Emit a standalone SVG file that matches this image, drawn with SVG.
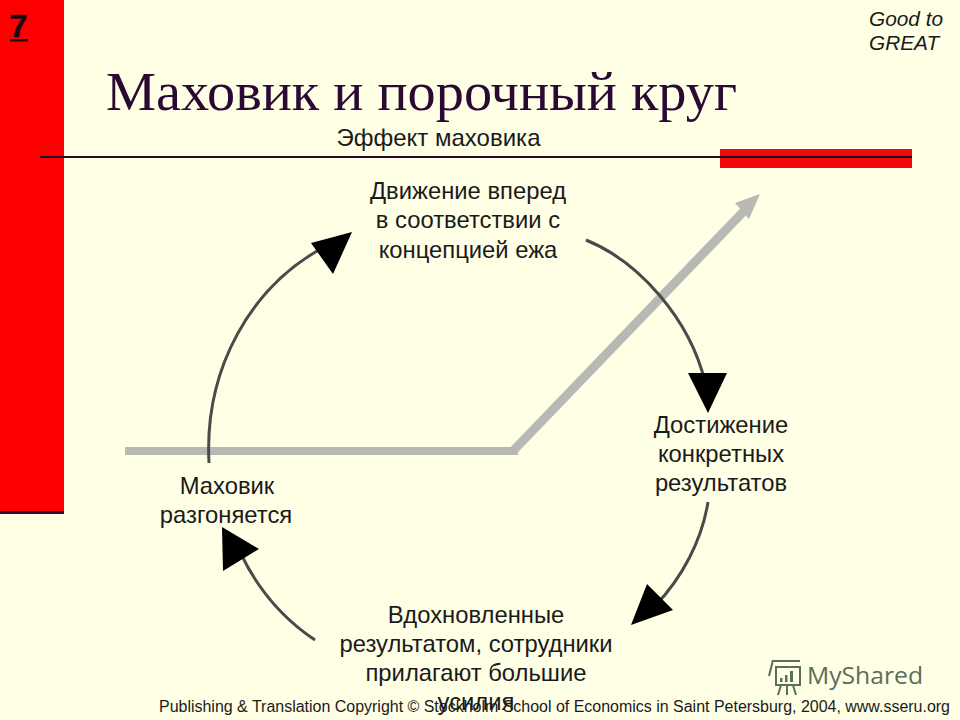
<svg xmlns="http://www.w3.org/2000/svg" width="960" height="720" viewBox="0 0 960 720">
<style>
.l{font-family:"Liberation Sans",Arial,sans-serif;font-size:23.800px;fill:#1a1a1a;text-anchor:middle}
.arc{fill:none;stroke:#4a4a48;stroke-width:3}
.head{fill:#000}
.g{stroke:#b8b8b4;fill:none}
.logo{fill:none;stroke:#5a6e5a;stroke-width:2}
</style>
<rect width="960" height="720" fill="#ffffe6"/>
<g id="sidebar">
<rect x="0" y="0" width="64" height="512" fill="#ff0000"/>
<rect x="0" y="511" width="64" height="3" fill="#3a0a2a"/>
<text x="18.500" y="37" font-family="'Liberation Sans',Arial,sans-serif" font-size="32" font-weight="bold" fill="#1a0a14" stroke="#1a0a14" stroke-width="0.6" text-anchor="middle">7</text>
<rect x="10" y="39" width="18" height="2.500" fill="#1a0a14"/>
</g>
<g id="header">
<text x="106" y="110" font-family="'Liberation Serif','Times New Roman',serif" font-size="55" fill="#2a0a33" textLength="631" lengthAdjust="spacingAndGlyphs">Маховик и порочный круг</text>
<text x="438.500" y="146" font-family="'Liberation Sans',Arial,sans-serif" font-size="24" fill="#1a1a1a" text-anchor="middle">Эффект маховика</text>
<rect x="720" y="149" width="192" height="19" fill="#f00a0a"/>
<rect x="40" y="156" width="872" height="2" fill="#2a0a22"/>
<text font-family="'Liberation Sans',Arial,sans-serif" font-size="20.800" font-style="italic" fill="#1a1a1a"><tspan x="869" y="26">Good to</tspan><tspan x="869" y="50">GREAT</tspan></text>
</g>
<g id="connectors">
<g id="flywheel-line">
<path class="g" d="M125 451H518" stroke-width="8"/>
<path class="g" d="M513 451L744 211" stroke-width="9"/>
<polygon points="760,194 749,219 735,203" fill="#b8b8b4"/>
</g>
<path class="arc" d="M586 240C640 262 690 320 705 382"/>
<polygon class="head" points="688,373 727,373 708,413"/>
<path class="arc" d="M708 502C702 540 682 578 655 606"/>
<polygon class="head" points="631,625 647,584 673,610"/>
<path class="arc" d="M315 640C285 620 258 590 240 552"/>
<polygon class="head" points="222,527 259,549 223,571"/>
<path class="arc" d="M209 463C204 370 250 285 328 245"/>
<polygon class="head" points="352,232 311,243 333,274"/>
</g>
<g id="node-top"><text class="l"><tspan x="468" y="199">Движение вперед</tspan><tspan x="468" y="228">в соответствии с</tspan><tspan x="468" y="258">концепцией ежа</tspan></text></g>
<g id="node-right"><text class="l"><tspan x="721" y="433">Достижение</tspan><tspan x="721" y="462">конкретных</tspan><tspan x="721" y="491">результатов</tspan></text></g>
<g id="node-bottom"><text class="l"><tspan x="476" y="623">Вдохновленные</tspan><tspan x="476" y="652">результатом, сотрудники</tspan><tspan x="476" y="681">прилагают большие</tspan><tspan x="476" y="710">усилия</tspan></text></g>
<g id="node-left"><text class="l"><tspan x="227" y="494">Маховик</tspan><tspan x="226" y="523">разгоняется</tspan></text></g>
<g id="footer">
<text x="159" y="712" font-family="'Liberation Sans',Arial,sans-serif" font-size="16" fill="#1a1a1a" textLength="791" lengthAdjust="spacingAndGlyphs">Publishing &amp; Translation Copyright © Stockholm School of Economics in Saint Petersburg, 2004, www.sseru.org</text>
</g>
<g id="watermark">
<path class="logo" d="M772 661H800M769 676L773 660M776 667H800V685H776ZM778 695L781 685M787 695V685M796 695L793 685"/>
<rect x="780" y="678" width="2.500" height="4" fill="#5a6e5a"/><rect x="785" y="675" width="2.500" height="7" fill="#5a6e5a"/><rect x="790" y="671" width="3" height="11" fill="#5a6e5a"/>
<text x="807" y="684" font-family="'Open Sans','Noto Sans',sans-serif" font-size="24" fill="#5a6e5a" textLength="116" lengthAdjust="spacingAndGlyphs">MyShared</text>
</g>
</svg>
